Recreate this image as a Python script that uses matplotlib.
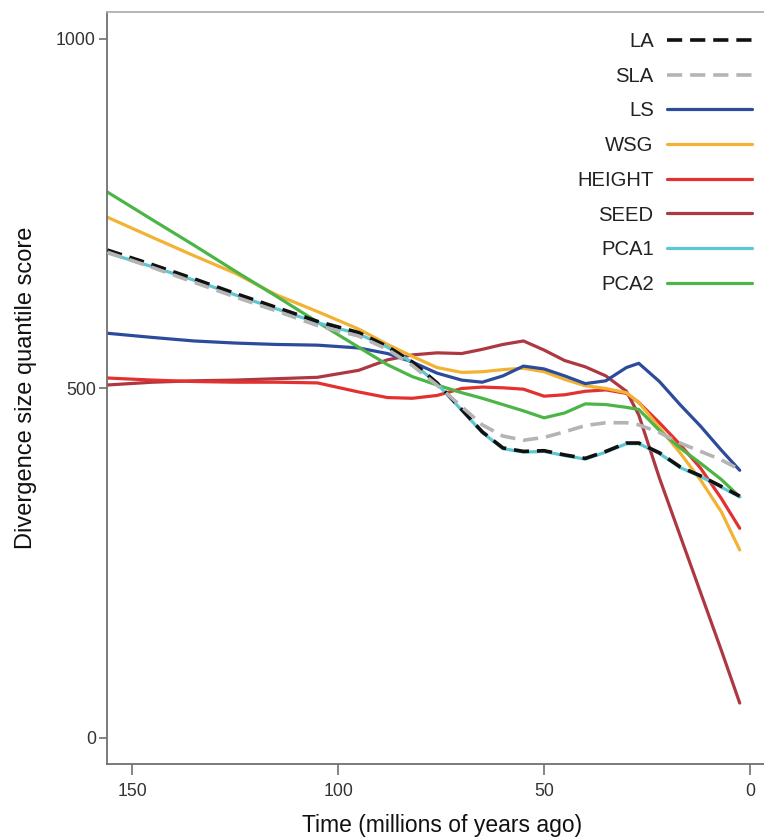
import matplotlib
matplotlib.use("Agg")
import matplotlib.pyplot as plt

plt.rcParams['font.family'] = ['Liberation Sans', 'DejaVu Sans']

# time points (millions of years ago)
time = [156, 145, 135, 125, 115, 105, 95, 88, 82, 76, 70, 65, 60,
        55, 50, 45, 40, 35, 30, 27, 22, 17, 12, 7, 2.5]

la = [698, 677, 657, 636, 616, 596, 580, 560, 538, 508, 470, 438, 415,
      410, 411, 405, 400, 410, 422, 422, 408, 388, 375, 360, 346]
sla = [695, 673, 652, 631, 611, 590, 575, 556, 533, 505, 474, 448, 432,
       426, 430, 438, 447, 451, 451, 448, 437, 422, 410, 398, 384]
ls = [579, 573, 568, 565, 563, 562, 558, 550, 538, 522, 512, 509, 518,
      532, 528, 518, 507, 511, 530, 536, 510, 477, 446, 412, 383]
wsg = [745, 716, 690, 665, 634, 610, 585, 563, 546, 530, 523, 524, 527,
       529, 524, 513, 504, 500, 494, 480, 444, 408, 369, 324, 269]
height = [515, 512, 510, 509, 509, 508, 495, 487, 486, 490, 500, 502, 501,
          499, 489, 491, 496, 498, 493, 480, 451, 420, 386, 343, 300]
seed = [505, 509, 511, 512, 514, 516, 526, 541, 548, 551, 550, 556, 563,
        568, 555, 540, 531, 518, 496, 462, 372, 290, 208, 126, 50]
pca1 = [694, 674, 655, 634, 614, 594, 578, 559, 537, 507, 469, 437, 414,
        409, 410, 404, 399, 409, 421, 421, 407, 387, 374, 359, 345]
pca2 = [781, 741, 705, 668, 632, 595, 559, 534, 517, 505, 494, 486, 477,
        468, 458, 465, 478, 477, 473, 470, 440, 415, 393, 370, 345]

names = ['LA', 'SLA', 'LS', 'WSG', 'HEIGHT', 'SEED', 'PCA1', 'PCA2']
series = [la, sla, ls, wsg, height, seed, pca1, pca2]
colors = ['#111111', '#b4b4b4', '#2d4b9b', '#f2b233', '#e3312f',
          '#ad3842', '#5cc6d2', '#4bb548']

fig = plt.figure(figsize=(7.64, 8.38), dpi=100)
ax = fig.add_axes([107/764, 74/838, 670/764, 752/838])

handles = {}
# draw order: coloured lines first, dashed on top
order = ['SEED', 'HEIGHT', 'WSG', 'LS', 'PCA2', 'PCA1', 'SLA', 'LA']
for nm in order:
    i = names.index(nm)
    if nm in ('LA', 'SLA'):
        h, = ax.plot(time, series[i], color=colors[i], lw=2.6,
                     dashes=(4.2, 2.2), solid_capstyle='round', zorder=3 + i)
    else:
        h, = ax.plot(time, series[i], color=colors[i], lw=2.3,
                     solid_joinstyle='round', solid_capstyle='round', zorder=2)
    handles[nm] = h

ax.set_xlim(156.1, -6.55)
ax.set_ylim(-37.2, 1038.6)
ax.set_xticks([150, 100, 50, 0])
ax.set_yticks([0, 500, 1000])

ax.spines['right'].set_visible(False)
ax.spines['top'].set_color('#b0b0b0')
ax.spines['left'].set_color('#707070')
ax.spines['bottom'].set_color('#707070')
for s in ['top', 'left', 'bottom']:
    ax.spines[s].set_linewidth(1.3)
ax.tick_params(axis='both', direction='out', color='#707070', width=1.2,
               labelsize=12.7, labelcolor='#333333')
ax.tick_params(axis='x', length=8, pad=6)
ax.tick_params(axis='y', length=6, pad=2)

ax.set_xlabel('Time (millions of years ago)', fontsize=16.5, color='#111111')
ax.xaxis.set_label_coords(0.5, -0.066)
ax.set_ylabel('Divergence size quantile score', fontsize=17, color='#111111')
ax.yaxis.set_label_coords(-0.105, 0.5)

leg = fig.legend([handles[n] for n in names], names, loc='upper right',
                 bbox_to_anchor=(752/764, 1 - 32/838), frameon=False,
                 markerfirst=False, fontsize=14.6, handlelength=4.2,
                 handletextpad=0.65, labelspacing=0.775, borderpad=0,
                 borderaxespad=0)
for t in leg.get_texts():
    t.set_color('#222222')

plt.savefig('out.png', dpi=100)
plt.close('all')
